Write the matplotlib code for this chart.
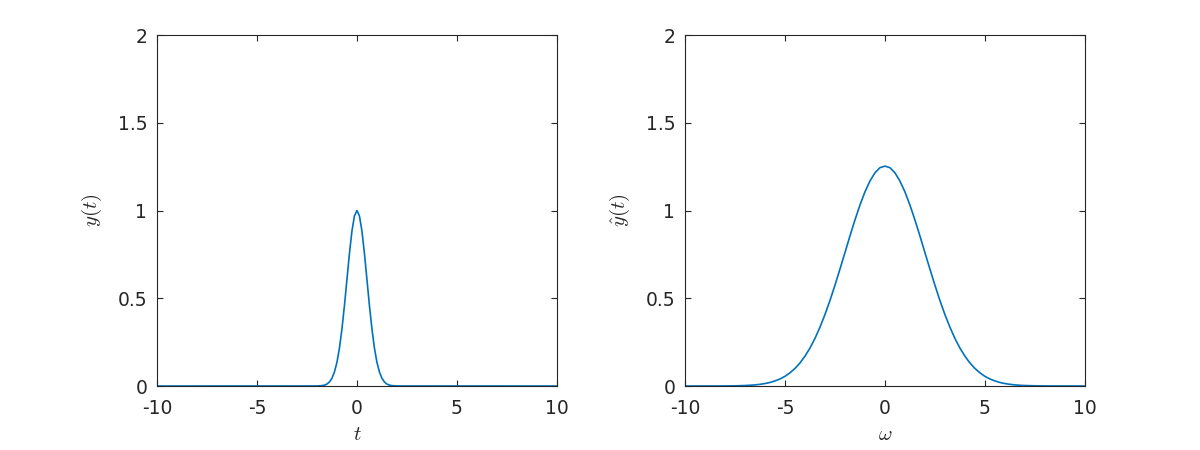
import matplotlib
matplotlib.use("Agg")
import matplotlib.pyplot as plt

plt.rcParams['mathtext.fontset'] = 'cm'
plt.rcParams['font.family'] = ['DejaVu Sans']
plt.rcParams['axes.unicode_minus'] = False

# left panel: pulse y(t)
t_vals = [-10, -2.0, -1.75, -1.625, -1.5, -1.375, -1.25, -1.125, -1.0, -0.875,
          -0.75, -0.625, -0.5, -0.375, -0.25, -0.125, 0.0, 0.125, 0.25, 0.375,
          0.5, 0.625, 0.75, 0.875, 1.0, 1.125, 1.25, 1.375, 1.5, 1.625, 1.75,
          2.0, 10]
y_vals = [0.0, 0.0003, 0.0022, 0.0051, 0.011, 0.023, 0.044, 0.080, 0.135, 0.216,
          0.325, 0.458, 0.607, 0.755, 0.883, 0.969, 1.0, 0.969, 0.883, 0.755,
          0.607, 0.458, 0.325, 0.216, 0.135, 0.080, 0.044, 0.023, 0.011, 0.0051,
          0.0022, 0.0003, 0.0]

# right panel: spectrum yhat(omega)
w_vals = [-10, -8.0, -7.5, -7.0, -6.75, -6.5, -6.25, -6.0, -5.75, -5.5, -5.25,
          -5.0, -4.75, -4.5, -4.25, -4.0, -3.75, -3.5, -3.25, -3.0, -2.75, -2.5,
          -2.25, -2.0, -1.75, -1.5, -1.25, -1.0, -0.75, -0.5, -0.25, 0.0,
          0.25, 0.5, 0.75, 1.0, 1.25, 1.5, 1.75, 2.0, 2.25, 2.5, 2.75, 3.0,
          3.25, 3.5, 3.75, 4.0, 4.25, 4.5, 4.75, 5.0, 5.25, 5.5, 5.75, 6.0,
          6.25, 6.5, 6.75, 7.0, 7.5, 8.0, 10]
yhat_vals = [0.0, 0.0004, 0.0011, 0.0027, 0.0042, 0.0064, 0.0095, 0.014, 0.020,
             0.029, 0.040, 0.055, 0.075, 0.100, 0.131, 0.170, 0.216, 0.271,
             0.335, 0.407, 0.487, 0.574, 0.666, 0.760, 0.855, 0.946, 1.031,
             1.106, 1.168, 1.215, 1.244, 1.253,
             1.244, 1.215, 1.168, 1.106, 1.031, 0.946, 0.855, 0.760, 0.666,
             0.574, 0.487, 0.407, 0.335, 0.271, 0.216, 0.170, 0.131, 0.100,
             0.075, 0.055, 0.040, 0.029, 0.020, 0.014, 0.0095, 0.0064, 0.0042,
             0.0027, 0.0011, 0.0004, 0.0]

x_ticks = [-10, -5, 0, 5, 10]
y_ticks = [0, 0.5, 1, 1.5, 2]
y_ticklabels = ['0', '0.5', '1', '1.5', '2']

fig = plt.figure(figsize=(12, 4.5), dpi=100)
ax1 = fig.add_axes([0.1308, 0.1422, 0.3333, 0.78])
ax2 = fig.add_axes([0.5708, 0.1422, 0.3333, 0.78])

panels = [(ax1, t_vals, y_vals, r'$t$', r'$y(t)$'),
          (ax2, w_vals, yhat_vals, r'$\omega$', r'$\hat{y}(t)$')]

for ax, xs, ys, xl, yl in panels:
    ax.plot(xs, ys, color='#0072BD', lw=1.2)
    ax.set_xlim(-10, 10)
    ax.set_ylim(0, 2)
    ax.set_xticks(x_ticks)
    ax.set_yticks(y_ticks)
    ax.set_yticklabels(y_ticklabels)
    ax.tick_params(direction='in', length=4, width=0.8, top=True, right=True,
                   labelsize=13.5, colors='#262626')
    ax.tick_params(axis='x', pad=9)
    ax.tick_params(axis='y', pad=7)
    for sp in ax.spines.values():
        sp.set_color('#262626')
        sp.set_linewidth(0.8)
    ax.set_xlabel(xl, fontsize=15, color='#262626', labelpad=5)
    ax.set_ylabel(yl, fontsize=15, color='#262626', labelpad=10)

fig.savefig('out.png', dpi=100)
